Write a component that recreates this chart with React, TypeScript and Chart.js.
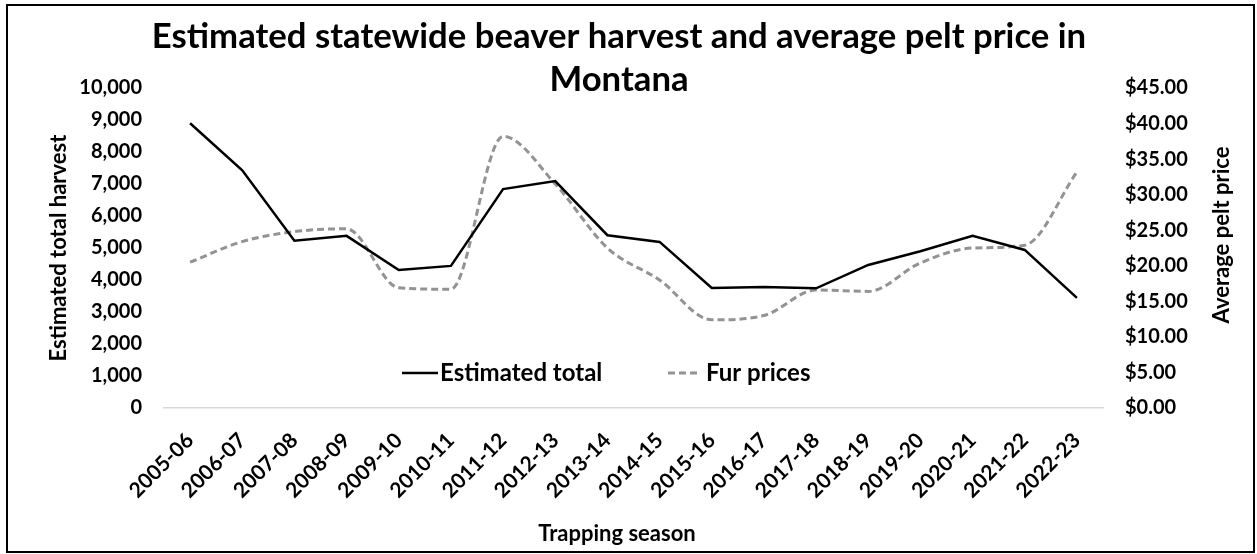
import React, { useEffect, useRef } from "react";
import { Chart, registerables } from "chart.js";

Chart.register(...registerables);

const seasons = [
  "2005-06", "2006-07", "2007-08", "2008-09", "2009-10", "2010-11",
  "2011-12", "2012-13", "2013-14", "2014-15", "2015-16", "2016-17",
  "2017-18", "2018-19", "2019-20", "2020-21", "2021-22", "2022-23",
];
const estimatedTotal = [
  8900, 7430, 5230, 5380, 4310, 4440, 6840, 7090, 5400, 5190, 3750, 3780,
  3740, 4470, 4900, 5380, 4940, 3440,
];
const furPrices = [
  20.5, 23.4, 24.8, 25.2, 16.9, 16.7, 38.2, 31.5, 22.5, 18.0, 12.4, 13.0,
  16.6, 16.4, 20.4, 22.5, 22.9, 33.2,
];
const titleLines = [
  "Estimated statewide beaver harvest and average pelt price in",
  "Montana",
];
const leftAxisTitle = "Estimated total harvest";
const rightAxisTitle = "Average pelt price";
const xAxisTitle = "Trapping season";
const seriesNames = ["Estimated total", "Fur prices"];

const FONT = "Lato, 'Open Sans', sans-serif";
const GRAY = "#939393";

const decorPlugin = {
  id: "decor",
  afterDraw(chart: any) {
    const { ctx, chartArea } = chart;
    ctx.save();
    ctx.fillStyle = "#000";
    ctx.textAlign = "center";
    ctx.textBaseline = "middle";

    // title, sized to the reference line width
    ctx.font = `bold 28px ${FONT}`;
    const w = ctx.measureText(titleLines[0]).width;
    const size = (28 * 936) / w;
    ctx.font = `bold ${size.toFixed(1)}px ${FONT}`;
    ctx.fillText(titleLines[0], 611, 31);
    ctx.fillText(titleLines[1], 611, 74);

    ctx.font = `bold 22px ${FONT}`;
    ctx.fillText(xAxisTitle, 609, 528);

    ctx.save();
    ctx.translate(51, (chartArea.top + chartArea.bottom) / 2);
    ctx.rotate(-Math.PI / 2);
    ctx.fillText(leftAxisTitle, 0, 0);
    ctx.restore();

    ctx.save();
    ctx.translate(1214, 229);
    ctx.rotate(-Math.PI / 2);
    ctx.fillText(rightAxisTitle, 0, 0);
    ctx.restore();

    // legend
    const ly = 367;
    ctx.font = `bold 24px ${FONT}`;
    ctx.textAlign = "left";
    ctx.lineWidth = 2.5;
    ctx.strokeStyle = "#000";
    ctx.beginPath();
    ctx.moveTo(394, ly);
    ctx.lineTo(430, ly);
    ctx.stroke();
    ctx.fillText(seriesNames[0], 432, ly);

    ctx.strokeStyle = GRAY;
    ctx.lineWidth = 3;
    ctx.setLineDash([7, 4]);
    ctx.beginPath();
    ctx.moveTo(660, ly);
    ctx.lineTo(692, ly);
    ctx.stroke();
    ctx.setLineDash([]);
    ctx.fillText(seriesNames[1], 698, ly);
    ctx.restore();
  },
};

export default function App() {
  const canvasRef = useRef<HTMLCanvasElement | null>(null);

  useEffect(() => {
    const canvas = canvasRef.current;
    if (!canvas) return;
    const tickFont = { family: FONT, size: 20, weight: "bold" as const };
    const chart = new Chart(canvas, {
      type: "line",
      data: {
        labels: seasons,
        datasets: [
          {
            label: seriesNames[0],
            data: estimatedTotal,
            borderColor: "#000000",
            backgroundColor: "#000000",
            borderWidth: 2.5,
            pointRadius: 0,
            tension: 0,
            yAxisID: "y",
          },
          {
            label: seriesNames[1],
            data: furPrices,
            borderColor: GRAY,
            backgroundColor: GRAY,
            borderWidth: 3,
            borderDash: [7, 4],
            pointRadius: 0,
            cubicInterpolationMode: "monotone",
            yAxisID: "y1",
          },
        ],
      },
      options: {
        responsive: false,
        animation: false,
        layout: { padding: { top: 82, left: 0, right: 0, bottom: 0 } },
        plugins: {
          legend: { display: false },
          title: { display: false },
          tooltip: { enabled: false },
        },
        scales: {
          x: {
            type: "category",
            offset: true,
            grid: { display: false, drawTicks: false },
            border: { display: true, color: "#d9d9d9", width: 1.5 },
            ticks: {
              color: "#000",
              font: { ...tickFont, size: 21 },
              minRotation: 45,
              maxRotation: 45,
              padding: 20,
              autoSkip: false,
            },
            afterFit(scale: any) {
              scale.height = 143;
            },
          },
          y: {
            position: "left",
            min: 0,
            max: 10000,
            grid: { display: false, drawTicks: false },
            border: { display: false },
            ticks: {
              stepSize: 1000,
              color: "#000",
              font: tickFont,
              padding: 22,
              callback: (v: any) => Number(v).toLocaleString("en-US"),
            },
            afterFit(scale: any) {
              scale.width = 156;
            },
          },
          y1: {
            position: "right",
            min: 0,
            max: 45,
            grid: { display: false, drawTicks: false },
            border: { display: false },
            ticks: {
              stepSize: 5,
              color: "#000",
              font: tickFont,
              padding: 22,
              callback: (v: any) => "$" + Number(v).toFixed(2),
            },
            afterFit(scale: any) {
              scale.width = 150;
            },
          },
        },
      },
      plugins: [decorPlugin],
    });
    return () => chart.destroy();
  }, []);

  return (
    <div
      style={{
        position: "absolute",
        left: 6,
        top: 4,
        width: 1249,
        height: 549,
        border: "2px solid #000",
        boxSizing: "border-box",
        background: "#fff",
      }}
    >
      <canvas
        ref={canvasRef}
        width={1245}
        height={545}
        style={{ display: "block", width: 1245, height: 545 }}
      />
    </div>
  );
}
